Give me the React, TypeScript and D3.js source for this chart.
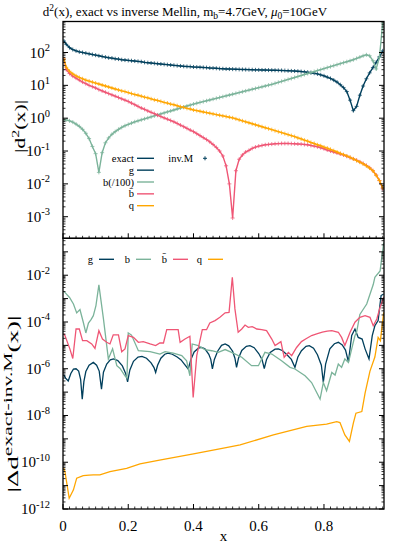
import React, { useEffect } from "react";
import * as d3 from "d3";

// ---------- DATA ----------
// Top panel: sampling grid of the inverse-Mellin points (x) and log10|d²(x)|
const topX = d3.range(99).map((i) => (i === 0 ? 0.003 : i / 100));

const gTopLog = [
  2.35, 2.25, 2.15, 2.09, 2.05, 2.02, 2.0, 1.98, 1.96, 1.94,
  1.92, 1.9, 1.88, 1.86, 1.84, 1.83, 1.81, 1.8, 1.78, 1.77,
  1.76, 1.75, 1.74, 1.73, 1.72, 1.7, 1.69, 1.68, 1.67, 1.66,
  1.65, 1.64, 1.63, 1.62, 1.61, 1.6, 1.59, 1.58, 1.575, 1.57,
  1.56, 1.555, 1.55, 1.545, 1.54, 1.53, 1.525, 1.52, 1.51, 1.505,
  1.5, 1.497, 1.494, 1.49, 1.487, 1.484, 1.481, 1.478, 1.475, 1.472,
  1.47, 1.468, 1.466, 1.464, 1.462, 1.46, 1.457, 1.454, 1.45, 1.445,
  1.44, 1.435, 1.43, 1.42, 1.41, 1.4, 1.385, 1.37, 1.35, 1.32,
  1.29, 1.25, 1.21, 1.16, 1.1, 1.02, 0.93, 0.81, 0.55, 0.23,
  0.36, 0.7, 0.98, 1.2, 1.38, 1.54, 1.7, 1.87, 2.05,
];

const bTopLog = [
  -0.05, -0.05, -0.08, -0.12, -0.18, -0.25, -0.34, -0.46, -0.62, -0.86,
  -1.08, -1.65, -1.05, -0.75, -0.6, -0.49, -0.41, -0.34, -0.28, -0.23,
  -0.19, -0.15, -0.11, -0.08, -0.05, -0.02, 0.01, 0.04, 0.07, 0.1,
  0.13, 0.16, 0.19, 0.22, 0.25, 0.28, 0.31, 0.34, 0.37, 0.4,
  0.43, 0.455, 0.48, 0.505, 0.53, 0.555, 0.58, 0.605, 0.63, 0.655,
  0.68, 0.705, 0.73, 0.755, 0.78, 0.805, 0.83, 0.855, 0.88, 0.905,
  0.93, 0.955, 0.98, 1.005, 1.03, 1.06, 1.09, 1.12, 1.15, 1.18,
  1.21, 1.24, 1.27, 1.3, 1.33, 1.36, 1.39, 1.42, 1.45, 1.48,
  1.51, 1.54, 1.57, 1.6, 1.63, 1.66, 1.69, 1.72, 1.75, 1.78,
  1.82, 1.86, 1.9, 1.93, 1.9, 1.75, 1.5, 1.85, 2.9,
];

const bbarTopLog = [
  1.8, 1.48, 1.36, 1.28, 1.22, 1.16, 1.1, 1.05, 1.0, 0.96,
  0.92, 0.87, 0.83, 0.79, 0.75, 0.71, 0.67, 0.63, 0.59, 0.55,
  0.51, 0.46, 0.41, 0.36, 0.31, 0.27, 0.22, 0.18, 0.14, 0.09,
  0.05, 0.01, -0.03, -0.07, -0.11, -0.16, -0.21, -0.26, -0.31, -0.36,
  -0.41, -0.47, -0.53, -0.59, -0.65, -0.72, -0.8, -0.89, -1.0, -1.15,
  -1.45, -2.0, -3.04, -1.6, -1.25, -1.12, -1.03, -0.98, -0.92, -0.88,
  -0.85, -0.83, -0.81, -0.8, -0.79, -0.78, -0.775, -0.77, -0.77, -0.77,
  -0.775, -0.78, -0.785, -0.79, -0.8, -0.81, -0.83, -0.85, -0.87, -0.9,
  -0.93, -0.97, -1.0, -1.03, -1.06, -1.09, -1.12, -1.16, -1.2, -1.24,
  -1.28, -1.33, -1.38, -1.44, -1.51, -1.6, -1.73, -1.9, -2.15,
];

const qTopLog = [
  1.8, 1.55, 1.43, 1.35, 1.29, 1.24, 1.2, 1.16, 1.13, 1.1,
  1.07, 1.04, 1.01, 0.98, 0.95, 0.92, 0.89, 0.86, 0.83, 0.81,
  0.78, 0.75, 0.72, 0.7, 0.67, 0.64, 0.62, 0.59, 0.56, 0.54,
  0.51, 0.48, 0.46, 0.43, 0.41, 0.38, 0.35, 0.33, 0.3, 0.28,
  0.25, 0.23, 0.21, 0.19, 0.17, 0.15, 0.13, 0.11, 0.09, 0.07,
  0.05, 0.03, 0.01, -0.02, -0.05, -0.08, -0.11, -0.14, -0.17, -0.2,
  -0.23, -0.26, -0.29, -0.32, -0.35, -0.38, -0.41, -0.44, -0.47, -0.5,
  -0.53, -0.56, -0.6, -0.63, -0.67, -0.7, -0.74, -0.77, -0.81, -0.84,
  -0.88, -0.91, -0.95, -0.99, -1.03, -1.07, -1.11, -1.15, -1.19, -1.24,
  -1.29, -1.34, -1.39, -1.45, -1.52, -1.6, -1.74, -1.9, -2.12,
];

// Bottom panel: |Δd| (log10) with its own x samples per series
const gBotX = [0.002, 0.008, 0.016, 0.024, 0.032, 0.04, 0.048, 0.054, 0.059, 0.064, 0.07, 0.08, 0.093, 0.103, 0.111, 0.118, 0.124, 0.134, 0.145, 0.155, 0.168, 0.182, 0.192, 0.198, 0.205, 0.216, 0.23, 0.242, 0.256, 0.27, 0.279, 0.284, 0.29, 0.3, 0.312, 0.322, 0.335, 0.35, 0.362, 0.372, 0.384, 0.392, 0.402, 0.415, 0.425, 0.435, 0.447, 0.453, 0.458, 0.464, 0.474, 0.486, 0.497, 0.508, 0.52, 0.527, 0.532, 0.538, 0.548, 0.562, 0.573, 0.586, 0.6, 0.61, 0.617, 0.624, 0.635, 0.65, 0.66, 0.672, 0.685, 0.7, 0.711, 0.72, 0.731, 0.745, 0.755, 0.768, 0.78, 0.792, 0.798, 0.805, 0.818, 0.832, 0.844, 0.856, 0.866, 0.875, 0.885, 0.895, 0.905, 0.917, 0.926, 0.938, 0.948, 0.956, 0.966, 0.975, 0.983];
const gBotLog = [-6.25, -6.4, -6.52, -6.2, -6.02, -6.0, -6.1, -6.45, -7.3, -6.55, -6.12, -5.85, -5.73, -5.85, -6.1, -6.87, -6.15, -5.8, -5.62, -5.58, -5.65, -5.88, -6.2, -6.56, -6.05, -5.68, -5.5, -5.47, -5.55, -5.75, -5.95, -6.16, -5.85, -5.55, -5.38, -5.33, -5.38, -5.5, -5.62, -5.8, -6.01, -5.6, -5.28, -5.12, -5.09, -5.15, -5.38, -5.6, -6.01, -5.6, -5.25, -5.0, -4.94, -5.02, -5.25, -5.55, -5.94, -5.55, -5.22, -5.04, -5.01, -5.1, -5.35, -5.6, -5.99, -5.6, -5.3, -5.16, -5.15, -5.22, -5.38, -5.6, -5.94, -5.5, -5.23, -5.04, -5.01, -5.12, -5.4, -5.85, -6.59, -5.8, -5.15, -4.93, -4.87, -4.98, -5.2, -5.7, -4.58, -4.3, -4.66, -4.73, -5.15, -5.58, -4.58, -4.16, -3.94, -2.87, -2.8];

const bBotX = [0.002, 0.01, 0.02, 0.032, 0.042, 0.052, 0.062, 0.07, 0.078, 0.086, 0.093, 0.101, 0.11, 0.124, 0.139, 0.152, 0.165, 0.175, 0.19, 0.196, 0.2, 0.21, 0.231, 0.267, 0.297, 0.313, 0.338, 0.364, 0.379, 0.389, 0.396, 0.415, 0.435, 0.456, 0.476, 0.497, 0.517, 0.548, 0.578, 0.599, 0.619, 0.64, 0.67, 0.696, 0.711, 0.742, 0.762, 0.788, 0.798, 0.808, 0.824, 0.834, 0.844, 0.854, 0.864, 0.875, 0.885, 0.895, 0.9, 0.91, 0.931, 0.951, 0.956, 0.972, 0.983];
const bBotLog = [-2.68, -2.8, -2.95, -3.23, -3.61, -3.47, -4.0, -4.47, -4.05, -3.9, -3.73, -3.3, -2.41, -3.87, -5.58, -5.15, -5.87, -5.99, -6.3, -6.4, -4.47, -4.56, -5.23, -5.27, -5.37, -5.27, -5.33, -5.44, -5.66, -6.3, -4.94, -5.01, -5.18, -5.23, -5.3, -5.18, -5.3, -5.51, -5.87, -5.87, -5.3, -5.37, -5.66, -5.94, -6.01, -6.3, -6.59, -7.3, -6.59, -6.94, -6.16, -6.27, -5.8, -5.94, -5.58, -5.73, -5.15, -4.58, -4.44, -3.68, -3.23, -2.4, -2.09, -1.82, -0.6];

const bbarBotX = [0.002, 0.006, 0.021, 0.03, 0.04, 0.05, 0.06, 0.073, 0.088, 0.098, 0.11, 0.121, 0.134, 0.144, 0.154, 0.17, 0.18, 0.19, 0.2, 0.216, 0.231, 0.246, 0.267, 0.284, 0.297, 0.308, 0.318, 0.338, 0.353, 0.359, 0.374, 0.389, 0.392, 0.399, 0.41, 0.427, 0.44, 0.45, 0.466, 0.481, 0.497, 0.509, 0.519, 0.527, 0.537, 0.548, 0.558, 0.568, 0.58, 0.594, 0.609, 0.624, 0.64, 0.65, 0.668, 0.678, 0.691, 0.701, 0.716, 0.731, 0.745, 0.762, 0.78, 0.795, 0.81, 0.824, 0.844, 0.854, 0.864, 0.88, 0.895, 0.91, 0.926, 0.941, 0.951, 0.962, 0.972, 0.983];
const bbarBotLog = [-4.5, -4.58, -5.15, -5.56, -4.3, -4.3, -4.8, -4.8, -4.94, -5.13, -4.37, -4.73, -4.87, -4.94, -4.55, -4.55, -5.27, -5.15, -4.58, -4.66, -4.87, -4.84, -4.94, -5.01, -4.9, -4.9, -4.33, -4.33, -4.33, -4.87, -4.73, -4.61, -5.37, -7.23, -5.44, -4.33, -4.33, -4.04, -3.94, -3.8, -3.61, -3.59, -2.09, -3.44, -4.44, -4.3, -4.13, -4.23, -4.2, -4.3, -4.33, -4.37, -4.73, -5.01, -4.84, -5.51, -5.3, -5.44, -5.09, -4.84, -4.72, -4.58, -4.5, -4.43, -4.39, -4.37, -4.44, -4.66, -5.01, -4.44, -4.01, -3.8, -3.73, -3.8, -4.16, -3.87, -3.37, -2.94];

const qBotX = [0.002, 0.006, 0.019, 0.032, 0.042, 0.062, 0.08, 0.093, 0.113, 0.144, 0.195, 0.236, 0.3, 0.4, 0.5, 0.543, 0.645, 0.747, 0.808, 0.839, 0.849, 0.864, 0.878, 0.89, 0.898, 0.916, 0.926, 0.941, 0.956, 0.966, 0.973, 0.983];
const qBotLog = [-10.25, -10.4, -11.54, -11.18, -10.68, -10.57, -10.55, -10.54, -10.54, -10.4, -10.26, -10.07, -9.9, -9.64, -9.37, -9.26, -8.83, -8.47, -8.37, -8.26, -8.3, -8.83, -9.11, -8.33, -7.9, -7.83, -7.04, -6.1, -5.5, -4.66, -4.8, -3.59];

const topTickExps = [2, 1, 0, -1, -2, -3];
const botTickExps = [-2, -4, -6, -8, -10, -12];
const xTickVals = [0, 0.2, 0.4, 0.6, 0.8];
const topLegend = ["exact", "g", "b(/100)", "b̄", "q"];
const botLegend = ["g", "b", "b̄", "q"];

// ---------- STYLE ----------
const C_G = "#003f5c";
const C_B = "#7bb39a";
const C_BBAR = "#ef5675";
const C_Q = "#ffa600";
const FONT = "'Liberation Serif', 'Times New Roman', serif";

const W = 407, H = 543;
const PL = 63, PR = 384;
const T1 = 21.5, B1 = 238.3, B2 = 509;

function logTickSet(lo: number, hi: number) {
  const major: number[] = [];
  const minor: number[] = [];
  for (let e = Math.floor(Math.log10(lo)) - 1; e <= Math.ceil(Math.log10(hi)); e++) {
    const v = Math.pow(10, e);
    if (v >= lo * 0.999 && v <= hi * 1.001) major.push(v);
    for (let k = 2; k < 10; k++) {
      const m = k * v;
      if (m >= lo && m <= hi) minor.push(m);
    }
  }
  return { major, minor };
}

export default function App() {
  useEffect(() => {
    document.body.style.margin = "0";
  }, []);

  const x = d3.scaleLinear().domain([0, 0.984]).range([PL, PR]);
  const yT = d3.scaleLog().domain([2.2e-4, 880]).range([B1, T1]);
  const yB = d3.scaleLog().domain([1e-12, 0.38]).range([B2, B1]);

  const topSeries = [
    { vals: gTopLog, color: C_G },
    { vals: bTopLog, color: C_B },
    { vals: bbarTopLog, color: C_BBAR },
    { vals: qTopLog, color: C_Q },
  ];
  const botSeries = [
    { xs: gBotX, vals: gBotLog, color: C_G },
    { xs: bBotX, vals: bBotLog, color: C_B },
    { xs: bbarBotX, vals: bbarBotLog, color: C_BBAR },
    { xs: qBotX, vals: qBotLog, color: C_Q },
  ];

  const lineTop = d3
    .line<[number, number]>()
    .x((d) => x(d[0]))
    .y((d) => yT(d[1]));
  const lineBot = d3
    .line<[number, number]>()
    .x((d) => x(d[0]))
    .y((d) => yB(d[1]));

  const tTop = logTickSet(2.2e-4, 880);
  const tBot = logTickSet(1e-12, 0.38);
  const xMinor = d3.range(0, 0.985, 0.02);

  const plus = "M-2,0H2M0,-2V2";

  return (
    <svg
      width={W}
      height={H}
      style={{ position: "absolute", left: 0, top: 0, background: "#fff" }}
      fontFamily={FONT}
    >
      <defs>
        <clipPath id="clipTop">
          <rect x={PL} y={T1} width={PR - PL} height={B1 - T1} />
        </clipPath>
        <clipPath id="clipBot">
          <rect x={PL} y={B1} width={PR - PL} height={B2 - B1} />
        </clipPath>
      </defs>
      <rect x={0} y={0} width={W} height={H} fill="#fff" />

      {/* Title */}
      <text x={185} y={16} fontSize={13} textAnchor="middle" fill="#000">
        d<tspan dy={-5} fontSize={9.5}>2</tspan>
        <tspan dy={5}>(x), exact vs inverse Mellin, m</tspan>
        <tspan dy={3} fontSize={9.5}>b</tspan>
        <tspan dy={-3}>=4.7GeV, </tspan>
        <tspan fontStyle="italic">μ</tspan>
        <tspan dy={3} fontSize={9.5}>0</tspan>
        <tspan dy={-3}>=10GeV</tspan>
      </text>

      {/* Top panel curves */}
      <g clipPath="url(#clipTop)">
        {topSeries.map((s, i) => {
          const pts: [number, number][] = topX.map((xv, j) => [xv, Math.pow(10, s.vals[j])]);
          return (
            <g key={i}>
              <path d={lineTop(pts) || ""} fill="none" stroke={s.color} strokeWidth={1.4} />
              {pts.map((p, j) => (
                <path
                  key={j}
                  d={plus}
                  transform={`translate(${x(p[0])},${yT(p[1])})`}
                  stroke={s.color}
                  strokeWidth={0.9}
                  opacity={0.85}
                />
              ))}
            </g>
          );
        })}
      </g>

      {/* Bottom panel curves */}
      <g clipPath="url(#clipBot)">
        {botSeries.map((s, i) => {
          const pts: [number, number][] = s.xs.map((xv, j) => [xv, Math.pow(10, s.vals[j])]);
          return <path key={i} d={lineBot(pts) || ""} fill="none" stroke={s.color} strokeWidth={1.3} />;
        })}
      </g>

      {/* Frames */}
      <rect x={PL} y={T1} width={PR - PL} height={B1 - T1} fill="none" stroke="#000" strokeWidth={1.3} />
      <rect x={PL} y={B1} width={PR - PL} height={B2 - B1} fill="none" stroke="#000" strokeWidth={1.3} />

      {/* Y ticks top */}
      {tTop.major.map((v, i) => (
        <g key={"tM" + i} stroke="#000" strokeWidth={1}>
          <line x1={PL} x2={PL + 5} y1={yT(v)} y2={yT(v)} />
          <line x1={PR} x2={PR - 5} y1={yT(v)} y2={yT(v)} />
        </g>
      ))}
      {tTop.minor.map((v, i) => (
        <g key={"tm" + i} stroke="#000" strokeWidth={0.8}>
          <line x1={PL} x2={PL + 2.5} y1={yT(v)} y2={yT(v)} />
          <line x1={PR} x2={PR - 2.5} y1={yT(v)} y2={yT(v)} />
        </g>
      ))}
      {/* Y ticks bottom */}
      {tBot.major.map((v, i) => (
        <g key={"bM" + i} stroke="#000" strokeWidth={1}>
          <line x1={PL} x2={PL + 5} y1={yB(v)} y2={yB(v)} />
          <line x1={PR} x2={PR - 5} y1={yB(v)} y2={yB(v)} />
        </g>
      ))}
      {tBot.minor.map((v, i) => (
        <g key={"bm" + i} stroke="#000" strokeWidth={0.8}>
          <line x1={PL} x2={PL + 2.5} y1={yB(v)} y2={yB(v)} />
          <line x1={PR} x2={PR - 2.5} y1={yB(v)} y2={yB(v)} />
        </g>
      ))}

      {/* X ticks (bottom of each panel, pointing up) */}
      {xMinor.map((v, i) => {
        const isMajor = Math.abs(v / 0.2 - Math.round(v / 0.2)) < 1e-6;
        const len = isMajor ? 5 : 2.5;
        return (
          <g key={"x" + i} stroke="#000" strokeWidth={isMajor ? 1 : 0.8}>
            <line x1={x(v)} x2={x(v)} y1={B1} y2={B1 - len} />
            <line x1={x(v)} x2={x(v)} y1={B2} y2={B2 - len} />
          </g>
        );
      })}

      {/* Y tick labels */}
      {topTickExps.map((e) => (
        <text key={"tl" + e} x={50} y={yT(Math.pow(10, e)) + 5} fontSize={15} textAnchor="end" fill="#000">
          10<tspan dy={-6.5} fontSize={10.5}>{e}</tspan>
        </text>
      ))}
      {botTickExps.map((e) => (
        <text key={"bl" + e} x={50} y={yB(Math.pow(10, e)) + 5} fontSize={15} textAnchor="end" fill="#000">
          10<tspan dy={-6.5} fontSize={10.5}>{e}</tspan>
        </text>
      ))}

      {/* X tick labels */}
      {xTickVals.map((v) => (
        <text key={"xl" + v} x={x(v)} y={531} fontSize={15} textAnchor="middle" fill="#000">
          {v === 0 ? "0" : String(v)}
        </text>
      ))}
      <text x={(PL + PR) / 2} y={541} fontSize={15} textAnchor="middle" fill="#000">
        x
      </text>

      {/* Y axis titles */}
      <text
        transform="translate(25,126.5) rotate(-90)"
        textAnchor="middle"
        fontSize={15}
        textLength={53}
        lengthAdjust="spacingAndGlyphs"
        fill="#000"
      >
        |d<tspan dy={-6} fontSize={11}>2</tspan>
        <tspan dy={6}>(x)|</tspan>
      </text>
      <text
        transform="translate(18,404) rotate(-90)"
        textAnchor="middle"
        fontSize={15}
        textLength={177}
        lengthAdjust="spacingAndGlyphs"
        fill="#000"
      >
        |Δd<tspan dy={-6} fontSize={12}>exact-inv.M</tspan>
        <tspan dy={6}>(x)|</tspan>
      </text>

      {/* Top legend */}
      {topLegend.map((lab, i) => {
        const yy = 158.3 + i * 11.85;
        const col = [C_G, C_G, C_B, C_BBAR, C_Q][i];
        return (
          <g key={"lg" + i}>
            <text x={134} y={yy + 3.5} fontSize={10.5} textAnchor="end" fill="#000">
              {lab}
            </text>
            <line x1={137} x2={154} y1={yy} y2={yy} stroke={col} strokeWidth={1.4} />
          </g>
        );
      })}
      <text x={193} y={161.8} fontSize={10.5} textAnchor="end" fill="#000">
        inv.M
      </text>
      <path d={plus} transform="translate(205,158.3)" stroke={C_G} strokeWidth={1} />

      {/* Bottom legend */}
      {botLegend.map((lab, i) => {
        const tx = [93, 130, 167, 202][i];
        const col = [C_G, C_B, C_BBAR, C_Q][i];
        return (
          <g key={"bl" + i}>
            <text x={tx} y={262.8} fontSize={10.5} textAnchor="end" fill="#000">
              {lab}
            </text>
            <line x1={tx + 6} x2={tx + 21} y1={259.3} y2={259.3} stroke={col} strokeWidth={1.4} />
          </g>
        );
      })}
    </svg>
  );
}
